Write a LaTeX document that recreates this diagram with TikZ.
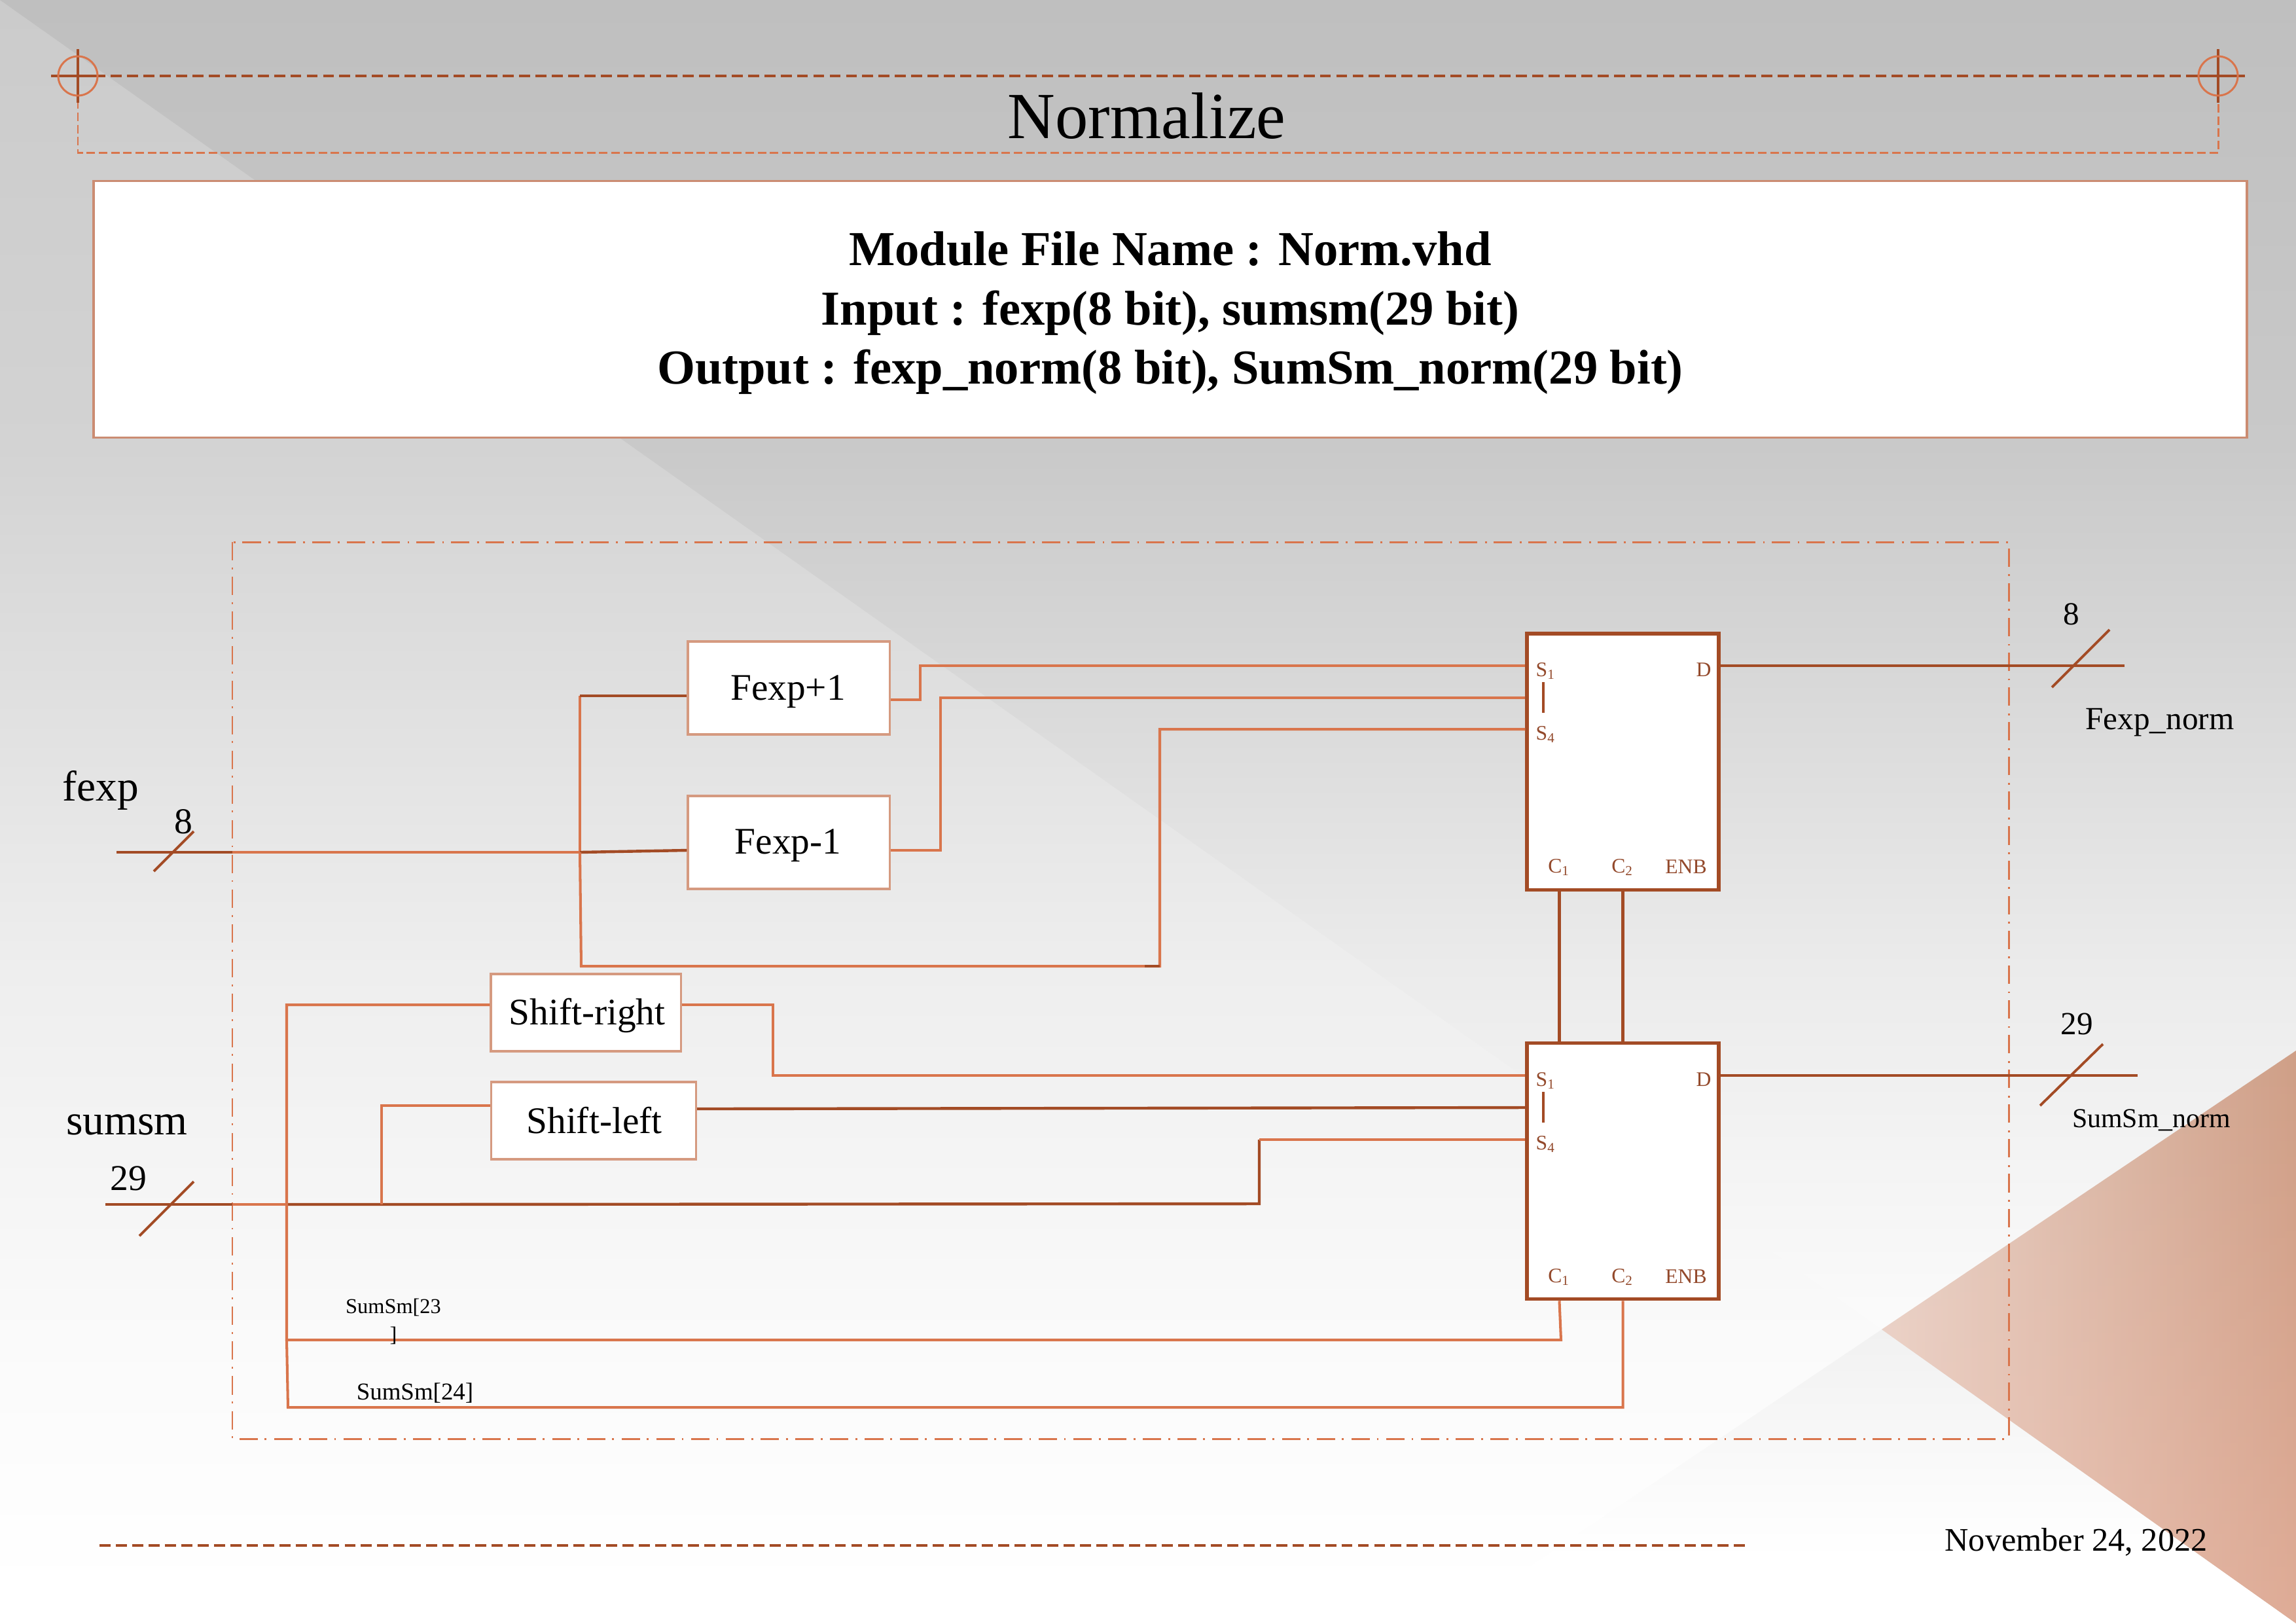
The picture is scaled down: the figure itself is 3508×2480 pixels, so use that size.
\documentclass[tikz,border=0pt]{standalone}
\usepackage{fontspec}
\setmainfont{Liberation Serif}
\usetikzlibrary{positioning,fadings}
\definecolor{rust}{HTML}{A34B25}
\definecolor{pincol}{HTML}{93492B}
\definecolor{wirecol}{HTML}{D9754C}
\definecolor{boxline}{HTML}{D59A80}
\definecolor{infoline}{HTML}{CB8C72}
\definecolor{wedgeleft}{HTML}{E7D4CA}
\definecolor{wedgeright}{HTML}{CF9F87}
\newcommand{\fsz}[1]{\fontsize{#1}{1.2\dimexpr #1pt\relax}\selectfont}
% background ramps: 25bp is the bottom of the shaded path, 75bp its top
\pgfdeclareverticalshading{backwest}{100bp}{rgb(0bp)=(1,1,1); rgb(26bp)=(1,1,1); rgb(34bp)=(.98,.98,.98); rgb(45.2bp)=(.933,.933,.933); rgb(55.8bp)=(.863,.863,.863); rgb(61.3bp)=(.827,.827,.827); rgb(75bp)=(.796,.796,.796); rgb(100bp)=(.796,.796,.796)}
\pgfdeclareverticalshading{backnorth}{100bp}{rgb(0bp)=(.984,.984,.984); rgb(25bp)=(.984,.984,.984); rgb(38.6bp)=(.922,.922,.922); rgb(51.6bp)=(.832,.832,.832); rgb(58.3bp)=(.788,.788,.788); rgb(75bp)=(.749,.749,.749); rgb(100bp)=(.749,.749,.749)}
\pgfdeclareverticalshading{backsouth}{100bp}{rgb(0bp)=(1,1,1); rgb(36bp)=(1,1,1); rgb(75bp)=(.945,.945,.945); rgb(100bp)=(.945,.945,.945)}
\tikzset{
  wire/.style={draw=wirecol,line width=1.15pt,line join=miter},
  bus/.style={draw=rust,line width=1.25pt},
  tick/.style={draw=rust,line width=1.1pt},
  blockbox/.style={draw=boxline,line width=0.9pt,fill=white,inner sep=0pt},
  muxbox/.style={draw=rust,line width=1.5pt,fill=white,minimum width=2.93cm,minimum height=3.91cm,inner sep=0pt},
  pinlab/.style={text=pincol,inner sep=0pt,font=\fsz{9}},
  txt/.style={inner sep=0pt,font=\fsz{14}},
  bigtxt/.style={inner sep=0pt,font=\fsz{18.6}},
  blocktxt/.style={inner sep=0pt,font=\fsz{16.3}},
  infotxt/.style={inner sep=0pt,font=\bfseries\fsz{21.2}}
}
\begin{document}
\begin{tikzpicture}[x=0.01cm,y=-0.01cm]
\useasboundingbox (0,0) rectangle (3508,2480);
% background
\shade[shading=backwest] (0,0) rectangle (3508,2480);
\shade[shading=backnorth] (0,0) -- (3508,0) -- (3508,1605) -- (2875,2031) -- cycle;
\shade[shading=backsouth] (2875,2031) -- (2290,2425) -- (2290,2480) -- (3508,2480) -- cycle;
\shade[left color=wedgeleft,right color=wedgeright] (3508,1605) -- (2875,2031) -- (3508,2480) -- cycle;
\fill[color={rgb,255:red,255;green,198;blue,183},opacity=0.33,path fading=north] (3508,1605) -- (2875,2031) -- (3508,2480) -- cycle;
% title frame
\draw[wirecol,line width=0.85pt,dash pattern=on 3.7pt off 1.6pt] (119,116) -- (119,233) -- (3389,233) -- (3389,116);
\draw[rust,line width=1.14pt,dash pattern=on 4.8pt off 2.3pt] (119,116) -- (3389,116);
\foreach \cx in {119,3389}{
  \draw[rust,line width=1.14pt] (\cx-41,116) -- (\cx+41,116) (\cx,75) -- (\cx,157);
  \draw[wirecol,line width=0.85pt] (\cx,116) circle[radius=0.3cm];
}
\node[inner sep=0pt,font=\fsz{28.6}] (title) at (1752,177) {Normalize};
\node[draw=infoline,line width=0.9pt,fill=white,minimum width=32.88cm,minimum height=3.91cm,inner sep=0pt] (info) at (1788,472.5) {};
\node[infotxt] (infoa) at (1788,380) {Module File Name : Norm.vhd};
\node[infotxt] (infob) at (1788,478) {Input : fexp(8 bit), sumsm(29 bit)};
\node[infotxt] (infoc) at (1788,568) {Output : fexp\_norm(8 bit), SumSm\_norm(29 bit)};
% module outline
\draw[wirecol,line width=0.85pt,dash pattern=on 8pt off 3pt on 0.8pt off 3.3pt] (355,828) rectangle (3069,2198);
% free wire ends
\coordinate (fexpin) at (178,1302);
\coordinate (fexpedge) at (355,1302);
\coordinate (fexpj) at (886,1302);
\coordinate (fexpturn) at (888,1476);
\coordinate (sumin) at (161,1840);
\coordinate (sumedge) at (355,1840);
\coordinate (sumj) at (438,1840);
\coordinate (sumk) at (583,1840);
\coordinate (fnormout) at (3246,1017);
\coordinate (snormout) at (3266,1643);
% block nodes
\node[blockbox,minimum width=3.08cm,minimum height=1.42cm] (fplus) at (1205,1051) {};
\node[blockbox,minimum width=3.08cm,minimum height=1.42cm] (fminus) at (1205,1287) {};
\node[blockbox,minimum width=2.9cm,minimum height=1.18cm] (shr) at (895,1547) {};
\node[blockbox,minimum width=3.13cm,minimum height=1.18cm] (shl) at (907,1712) {};
\node[muxbox] (muxa) at (2479.5,1163.5) {};
\node[muxbox] (muxb) at (2479.5,1789) {};
\node[blocktxt] (fplustxt) at (1204,1057) {Fexp+1};
\node[blocktxt] (fminustxt) at (1204,1292) {Fexp-1};
\node[blocktxt] (shrtxt) at (897,1551) {Shift-right};
\node[blocktxt] (shltxt) at (908,1712) {Shift-left};
% pin labels
\foreach \blk/\ya in {muxa/968,muxb/1594}{
  \node[pinlab,anchor=west] at (2346,\ya+57) {S\textsubscript{1}};
  \node[pinlab,anchor=west] at (2346,\ya+154) {S\textsubscript{4}};
  \node[pinlab] at (2603,\ya+55) {D};
  \node[pinlab] at (2382,\ya+357) {C\textsubscript{1}};
  \node[pinlab] at (2479,\ya+357) {C\textsubscript{2}};
  \node[pinlab] at (2576,\ya+356) {ENB};
  \draw[rust,line width=1.4pt] (2358,\ya+74) -- (2358,\ya+121);
}
% fexp side
\draw[bus] (fexpin) -- (fexpedge);
\draw[wire] (fexpedge) -- (fexpj);
\draw[wire] (fexpj) -- (886,1063);
\draw[bus] (886,1063) -- (fplus.west |- 0,1063);
\draw[bus] (fexpj) -- (fminus.west |- 0,1299);
\draw[wire] (fexpj) -- (fexpturn) -- (1772,1476) -- (1772,1114) -- (muxa.west |- 0,1114);
\draw[bus] (1749,1476) -- (1772,1476);
\draw[wire] (fplus.east |- 0,1069) -- (1406,1069) -- (1406,1017) -- (muxa.west |- 0,1017);
\draw[wire] (fminus.east |- 0,1299) -- (1437,1299) -- (1437,1066) -- (muxa.west |- 0,1066);
\draw[bus] (muxa.east |- 0,1017) -- (fnormout);
% sumsm side
\draw[bus] (sumin) -- (sumedge);
\draw[wire] (sumedge) -- (sumj);
\draw[bus] (sumj) -- (sumk) -- (1924,1839) -- (1924,1741);
\draw[wire] (1924,1741) -- (muxb.west |- 0,1741);
\draw[wire] (sumk) -- (583,1689) -- (shl.west |- 0,1689);
\draw[wire] (shr.west |- 0,1535) -- (438,1535) -- (438,2047) -- (2385,2047) -- (muxb.south -| 2382.5,0);
\draw[wire] (438,2047) -- (440,2150) -- (2479.5,2150) -- (muxb.south);
\draw[wire] (shr.east |- 0,1535) -- (1181,1535) -- (1181,1643) -- (muxb.west |- 0,1643);
\draw[bus] (shl.east |- 0,1694) -- (muxb.west |- 0,1692);
\draw[bus] (muxb.east |- 0,1643) -- (snormout);
% link between the two blocks
\draw[bus] (muxa.south -| 2382.5,0) -- (muxb.north -| 2382.5,0);
\draw[bus] (muxa.south) -- (muxb.north);
% bus ticks
\draw[tick] (296,1270) -- (235,1331);
\draw[tick] (296,1805) -- (213,1888);
\draw[tick] (3223,962) -- (3135,1050);
\draw[tick] (3213,1595) -- (3117,1689);
% outer labels
\node[bigtxt] (fexplab) at (154,1207) {fexp};
\node[inner sep=0pt,font=\fsz{15.8}] (fexpw) at (280,1255) {8};
\node[bigtxt] (sumlab) at (194,1718) {sumsm};
\node[inner sep=0pt,font=\fsz{15.8}] (sumw) at (196,1800) {29};
\node[txt] (fnormw) at (3165,938) {8};
\node[txt] (fnormlab) at (3300,1104) {Fexp\_norm};
\node[txt] (snormw) at (3173,1564) {29};
\node[inner sep=0pt,font=\fsz{11.9}] (snormlab) at (3287,1711) {SumSm\_norm};
\node[inner sep=0pt,align=center,font=\fontsize{9.2}{12}\selectfont] (bitb) at (601,2019) {SumSm[23\\]};
\node[inner sep=0pt,font=\fsz{10.5}] (bita) at (634,2128) {SumSm[24]};
% footer
\draw[rust,line width=1.14pt,dash pattern=on 4.8pt off 2.3pt] (152,2361) -- (2668,2361);
\node[inner sep=0pt,font=\fsz{14.3}] (datelab) at (3172,2356) {November 24, 2022};
\end{tikzpicture}
\end{document}
